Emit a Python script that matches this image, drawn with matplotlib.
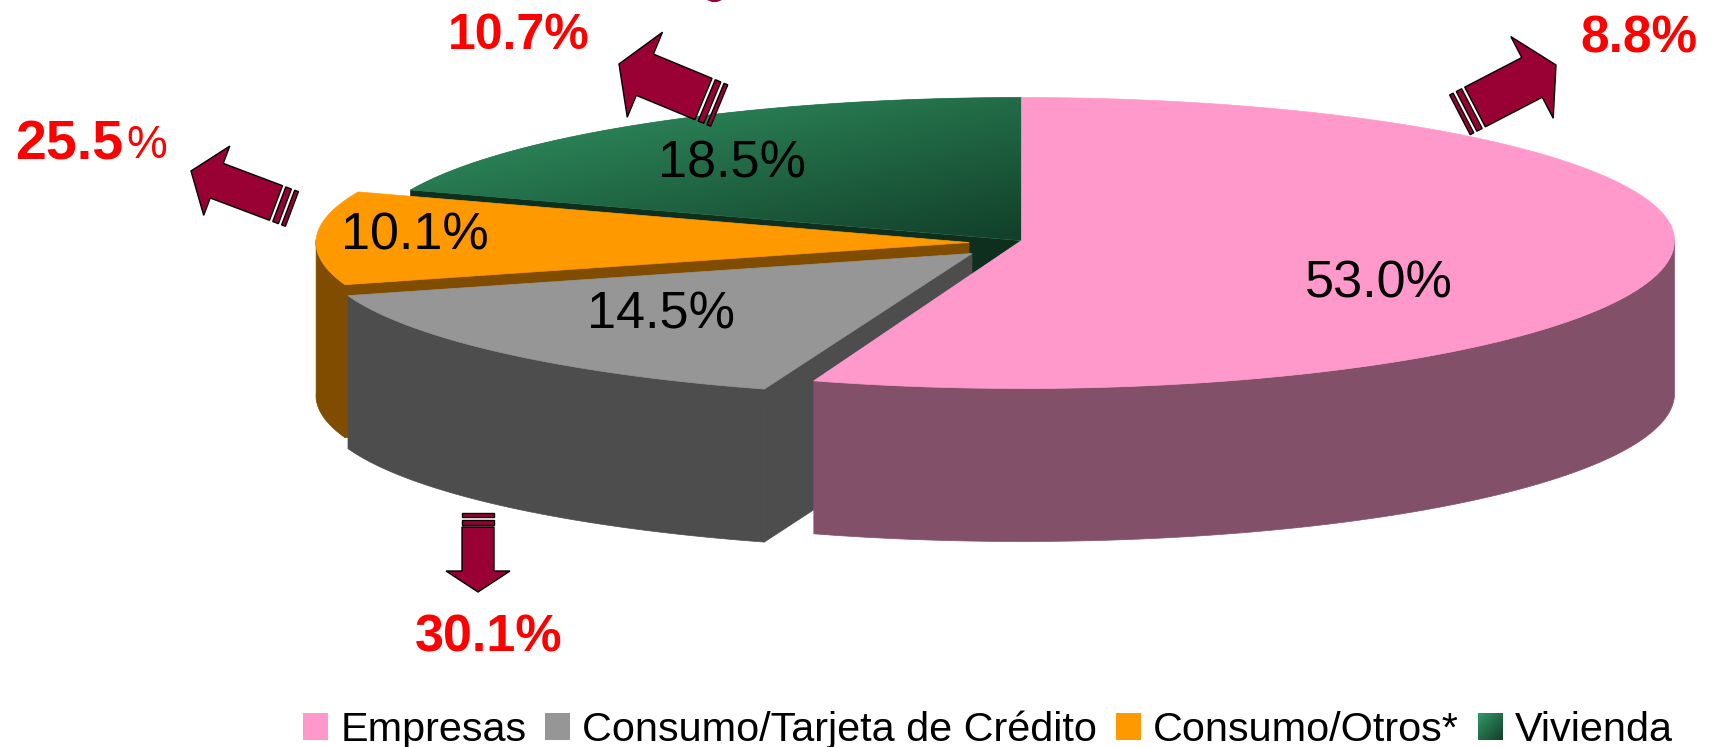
import numpy as np
import matplotlib
matplotlib.use("Agg")
from matplotlib import pyplot as plt
from matplotlib.patches import Polygon, Patch, Rectangle

categories = ['Empresas', 'Consumo/Tarjeta de Crédito', 'Consumo/Otros*', 'Vivienda']
shares = [53.0, 14.5, 10.1, 18.5]
share_labels = ['53.0%', '14.5%', '10.1%', '18.5%']
changes = ['8.8%', '30.1%', '25.5%', '10.7%']

top_colors = ['#FF99CC', '#969696', '#FF9900', '#2A7F55']
wall_colors = ['#835069', '#4D4D4D', '#804D00', '#0E2E1E']

# the chart is laid out in image pixels
W, H = 1713, 747
RX, RY, DEPTH = 653, 143, 153
RY_FRONT = [148, 143, 143, 143]  # empresas bulges a bit towards the viewer
centers = [(1021.5, 240.5), (972, 253.5), (969, 242.5), (1021.5, 240.5)]
label_pos = [(1379, 284), (661, 315), (415, 236), (732, 164)]

# share of the circle, clockwise from 12 o'clock
edges = np.concatenate([[0], np.cumsum(shares)]) / np.sum(shares) * 2 * np.pi


def rim(i, a0, a1, n=120):
    c = centers[i]
    t = np.linspace(a0, a1, n)
    ry = np.where(np.cos(t) < 0, RY_FRONT[i], RY)
    return np.column_stack([c[0] + RX * np.sin(t), c[1] - ry * np.cos(t)])


def top_poly(i):
    return np.vstack([centers[i], rim(i, edges[i], edges[i + 1])])


def add_poly(pts, color, z):
    p = Polygon(pts, closed=True, facecolor=color, edgecolor=color, lw=0.5, zorder=z)
    ax.add_patch(p)
    return p


def radial_wall(i, a, z):
    c = np.array(centers[i])
    e = rim(i, a, a, 1)[0]
    add_poly([c, e, e + [0, DEPTH], c + [0, DEPTH]], wall_colors[i], z)


def outer_wall(i, a0, a1, z):
    r = rim(i, a0, a1)
    add_poly(np.vstack([r, r[::-1] + [0, DEPTH]]), wall_colors[i], z)


def arrow(base, tip, body, head, head_len, tail=(3.5, 6, 3.5, 4)):
    base, tip = np.array(base, float), np.array(tip, float)
    u = (tip - base) / np.hypot(*(tip - base))
    n = np.array([-u[1], u[0]])
    neck = tip - u * head_len
    pts = [base + n * body / 2, neck + n * body / 2, neck + n * head / 2, tip,
           neck - n * head / 2, neck - n * body / 2, base - n * body / 2]
    ax.add_patch(Polygon(pts, closed=True, fc='#990033', ec='black', lw=1.0, zorder=20))
    s = tail[0]
    for w in (tail[1], tail[3]):
        a = base - u * s
        b = base - u * (s + w)
        ax.add_patch(Polygon([a + n * body / 2, b + n * body / 2, b - n * body / 2, a - n * body / 2],
                             closed=True, fc='#990033', ec='black', lw=1.0, zorder=20))
        s += w + tail[2]


fig = plt.figure(figsize=(W / 100, H / 100), dpi=100)
ax = fig.add_axes([0, 0, 1, 1])

# back to front: vivienda, otros, tarjeta, empresas
radial_wall(3, edges[3], 1)
green = add_poly(top_poly(3), top_colors[3], 2)
grad = np.add.outer(np.linspace(0, 1, 200), np.linspace(0, 1, 200)) / 2
cm = matplotlib.colors.LinearSegmentedColormap.from_list('g', ['#339966', '#123F29'])
im = ax.imshow(grad, cmap=cm, extent=(373, 1022, 240, 97), aspect='auto', zorder=3)
im.set_clip_path(green)

outer_wall(2, edges[2], 3 * np.pi / 2 + 0.02, 4)
radial_wall(2, edges[2], 5)
add_poly(top_poly(2), top_colors[2], 6)

outer_wall(1, edges[1], edges[2], 7)
radial_wall(1, edges[1], 8)
add_poly(top_poly(1), top_colors[1], 9)

outer_wall(0, np.pi / 2, edges[1], 10)
add_poly(top_poly(0), top_colors[0], 11)

for txt, (x, y) in zip(share_labels, label_pos):
    ax.text(x, y, txt, fontsize=37.5, family='Liberation Sans', color='black',
            ha='center', va='center', zorder=30)

arrow((1475, 107), (1556, 65), 44.7, 92, 27)
arrow((478, 527), (478, 592), 32, 64, 21, tail=(2.5, 5, 2.5, 4))
arrow((276, 203), (191, 171), 37, 74, 27.5)
arrow((703.5, 99), (619, 64), 44.7, 92, 28)

red = dict(color='#FF0000', fontweight='bold', family='Liberation Sans', va='center', zorder=30)
ax.text(1639, 39, changes[0], fontsize=37, ha='center', **red)
ax.text(489, 638, changes[1], fontsize=37.5, ha='center', **red)
ax.text(123, 145, changes[2][:-1], fontsize=40, ha='right', **red)
ax.text(126, 146, '%', fontsize=33, color='#FF0000', family='Liberation Sans', ha='left', va='center', zorder=30)
ax.text(519, 36, changes[3], fontsize=36, ha='center', **red)

# bit of a clipped title at the top edge
ax.add_patch(Polygon([(707, 0), (722, 0), (717, 2), (712, 2)], closed=True, fc='#990033', ec='none'))

handles = [Patch(fc=top_colors[0]), Patch(fc=top_colors[1]), Patch(fc=top_colors[2]), Patch(fc='#2A7F55')]
leg = ax.legend(handles, categories, ncol=4, loc='lower right', bbox_to_anchor=(0.979, -0.008),
                frameon=False, prop={'family': 'Liberation Sans', 'size': 29.8},
                handlelength=0.6, handleheight=0.62, handletextpad=0.3, columnspacing=0.45,
                borderaxespad=0, borderpad=0.1)

ax.set_xlim(0, W)
ax.set_ylim(H, 0)
ax.axis('off')

# vivienda swatch has the same gradient as its slice
fig.canvas.draw()
box = leg.legend_handles[3].get_window_extent().transformed(ax.transData.inverted())
sw = ax.imshow(grad, cmap=cm, extent=(box.x0, box.x1, box.y0, box.y1), aspect='auto', zorder=40)
ax.set_xlim(0, W)
ax.set_ylim(H, 0)

fig.savefig('out.png', dpi=100, facecolor='white')
